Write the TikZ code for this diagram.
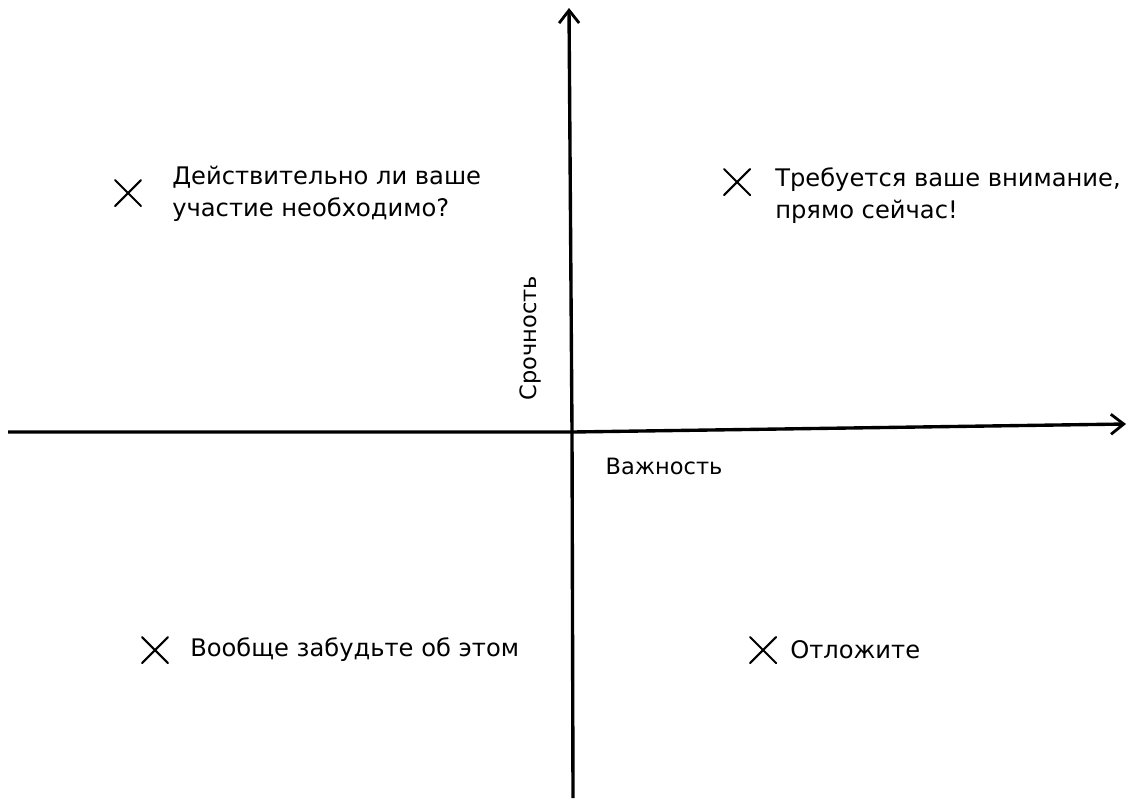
\documentclass[tikz,border=0pt]{standalone}
\usepackage{fontspec}
\setmainfont{DejaVu Sans}
\usetikzlibrary{arrows.meta}

\begin{document}
\begin{tikzpicture}[
  x=0.025cm, y=-0.025cm,
  axis/.style={line width=2.4pt, -{Straight Barb[length=3.2mm, width=5mm, line width=2pt]}},
  lbl/.style={font=\fontsize{17.2}{22.8}\selectfont, align=left, anchor=west, inner sep=0pt},
  axlbl/.style={font=\fontsize{16}{20}\selectfont, inner sep=0pt},
  pics/crossmark/.style={code={
    \draw[line width=1.5pt, line cap=round] (-13,-13) -- (13,13);
    \draw[line width=1.5pt, line cap=round] (-13,13) -- (13,-13);
  }},
]
\useasboundingbox (0,0) rectangle (1130,798);

% Axes
\coordinate (origin) at (572,432);
\coordinate (ybot) at (573,798);
\coordinate (ytop) at (569,8);
\coordinate (xleft) at (8,432);
\coordinate (xright) at (1126,424);
\draw[axis] (ybot) -- (origin) -- (ytop);
\draw[axis] (xleft) -- (origin) -- (xright);

% Axis labels
\node[axlbl, rotate=90] (urgency) at (530,338) {Срочность};
\node[axlbl] (importance) at (664,466) {Важность};

% Quadrants
\pic at (128,193) {crossmark};
\node[lbl] (q1) at (172,194) {Действительно ли ваше\\участие необходимо?};
\pic at (737,182) {crossmark};
\node[lbl] (q2) at (775,196) {Требуется ваше внимание,\\прямо сейчас!};
\pic at (155,650) {crossmark};
\node[lbl] (q3) at (190,650) {Вообще забудьте об этом};
\pic at (763,650) {crossmark};
\node[lbl] (q4) at (790,650) {Отложите};
\end{tikzpicture}
\end{document}
